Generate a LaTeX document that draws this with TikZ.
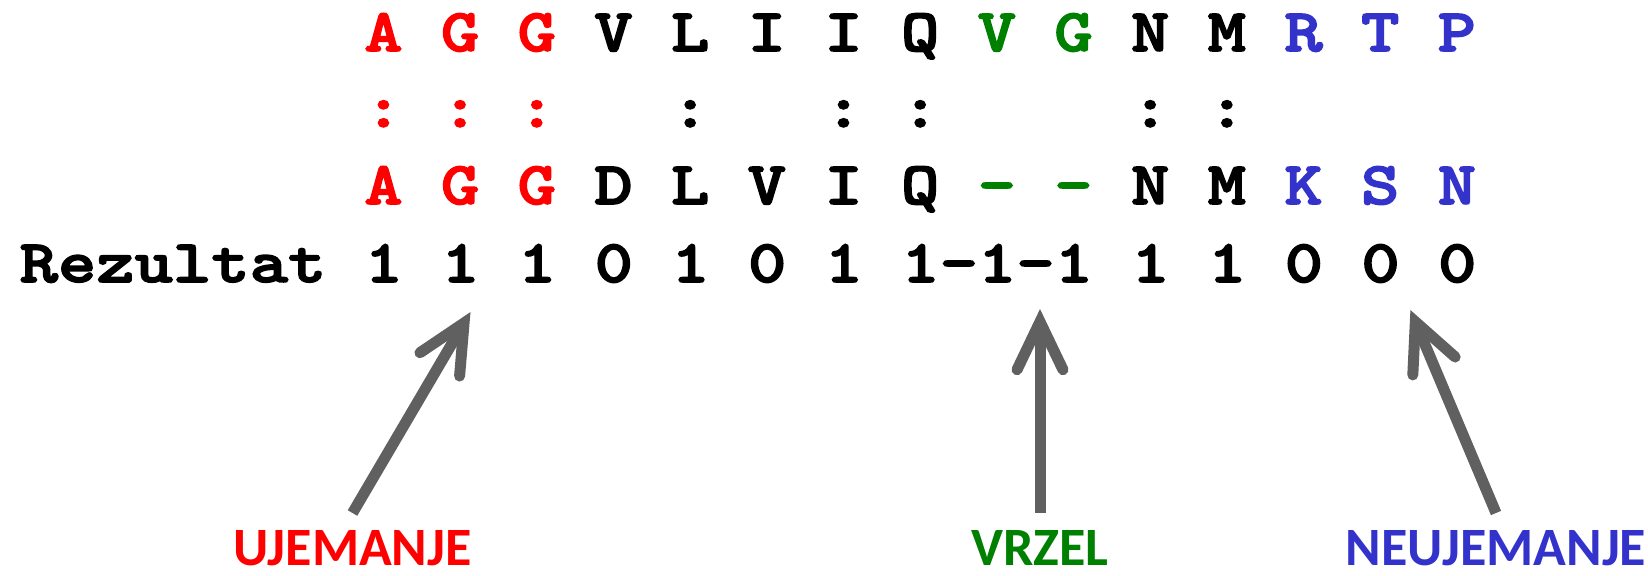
\documentclass[tikz,border=0pt]{standalone}
\usepackage{fontspec}
\usetikzlibrary{arrows.meta}
\newfontfamily\seqfont[Extension=.otf,UprightFont=*-bold,BoldFont=*-bold,FakeStretch=1.205,FakeBold=2.5]{lmmonolt10}
\newfontfamily\tagfont{Carlito}
\definecolor{matchred}{RGB}{255,0,0}
\definecolor{gapgreen}{RGB}{0,128,0}
\definecolor{mismblue}{RGB}{51,51,204}
\definecolor{arrowgray}{RGB}{96,96,96}
\newcommand\Rd[1]{\textcolor{matchred}{#1}}
\newcommand\Gn[1]{\textcolor{gapgreen}{#1}}
\newcommand\Bl[1]{\textcolor{mismblue}{#1}}
\begin{document}
\begin{tikzpicture}[x=0.5pt,y=-0.5pt,
  seqrow/.style={anchor=base west,inner sep=0pt,outer sep=0pt,
    font=\seqfont\frenchspacing\fontsize{30.3pt}{36pt}\selectfont},
  tag/.style={anchor=base,inner sep=0pt,outer sep=0pt,
    font=\tagfont\bfseries\fontsize{27pt}{32pt}\selectfont},
  pointer/.style={draw=arrowgray,line width=5.5pt,
    -{Straight Barb[length=24pt,width=23pt,line cap=round,line join=miter]}}]
\useasboundingbox (0,0) rectangle (1648,575);

% alignment rows (monospaced, one column = two characters)
\node[seqrow] (top)    at (364.3,51)  {\Rd{A G G} V L I I Q \Gn{V G} N M \Bl{R T P}};
\node[seqrow] (pairs)  at (364.3,127) {\Rd{: : :}~~~:~~~: :~~~~~: :};
\node[seqrow] (bottom) at (364.3,204) {\Rd{A G G} D L V I Q \Gn{— -} N M \Bl{K S N}};
\node[seqrow] (score)  at (19.7,282)  {Rezultat 1 1 1 0 1 0 1 1-1-1 1 1 0 0 0};

% category labels
\node[tag,text=matchred] (ujem)  at (352.5,565) {UJEMANJE};
\node[tag,text=gapgreen] (vrzel) at (1040,565)  {VRZEL};
\node[tag,text=mismblue] (neuj)  at (1496,565)  {NEUJEMANJE};

% arrow targets below the score row
\coordinate (tipA) at (470.5,312);
\coordinate (tipB) at (1040,309);
\coordinate (tipC) at (1410.4,310);

\draw[pointer] ([yshift=8.5pt]ujem.north)  -- (tipA);
\draw[pointer] ([yshift=8.5pt]vrzel.north) -- (tipB);
\draw[pointer] ([yshift=8.5pt]neuj.north)  -- (tipC);
\end{tikzpicture}
\end{document}
